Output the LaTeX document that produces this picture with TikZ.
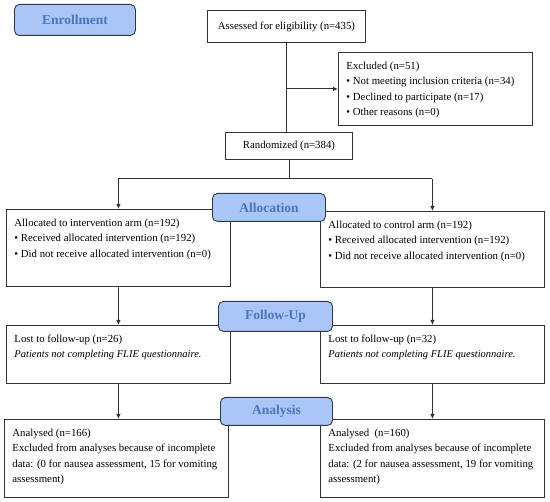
\documentclass[tikz,border=0pt]{standalone}
\usepackage{fontspec}
\setmainfont{Liberation Serif}
\usetikzlibrary{arrows.meta}
\definecolor{lblfill}{HTML}{A9C6F7}
\definecolor{lbltext}{HTML}{4A76BF}
\definecolor{lblborder}{HTML}{2E3848}
\definecolor{ln}{HTML}{333333}
\newcommand{\bxt}[3]{\parbox[c][#2][t]{#1}{\fontsize{10.8}{15.5}\selectfont\rule{0pt}{17pt}#3}}
\newcommand{\itl}[1]{{\fontsize{10.5}{15.5}\selectfont\itshape #1}}
\tikzset{
  box/.style={draw=ln, line width=0.9pt, fill=white, anchor=north west, inner sep=0pt},
  tbox/.style={box, inner xsep=8pt},
  cbox/.style={draw=ln, line width=0.9pt, fill=white, anchor=north west, inner sep=0pt, font=\fontsize{10.8}{12}\selectfont},
  lbl/.style={draw=lblborder, line width=0.9pt, fill=lblfill, rounded corners=5pt, anchor=north west,
     inner sep=0pt, text=lbltext, font=\fontsize{13.5}{15}\selectfont\bfseries},
  conn/.style={draw=ln, line width=0.9pt},
  arr/.style={conn, -{Latex[length=5pt,width=4.5pt]}}
}
\begin{document}
\begin{tikzpicture}[x=1pt,y=-1pt]
\useasboundingbox (0,0) rectangle (550,502);
% boxes
\node[cbox, minimum width=158pt, minimum height=32pt] (assess) at (207,10) {Assessed for eligibility (n=435)};
\node[tbox] (excl) at (338,52) {\bxt{178pt}{73pt}{Excluded (n=51)\\
\textbullet\ Not meeting inclusion criteria (n=34)\\
\textbullet\ Declined to participate (n=17)\\
\textbullet\ Other reasons (n=0)}};
\node[cbox, minimum width=127pt, minimum height=27pt] (rand) at (225,132) {Randomized (n=384)};
\node[tbox] (la) at (6,209) {\bxt{208pt}{77pt}{Allocated to intervention arm (n=192)\\
\textbullet\ Received allocated intervention (n=192)\\
\textbullet\ Did not receive allocated intervention (n=0)}};
\node[tbox] (ra) at (320,211) {\bxt{208pt}{76pt}{Allocated to control arm (n=192)\\
\textbullet\ Received allocated intervention (n=192)\\
\textbullet\ Did not receive allocated intervention (n=0)}};
\node[tbox] (lf) at (6,325) {\bxt{208pt}{58pt}{Lost to follow-up (n=26)\\
\itl{Patients not completing FLIE questionnaire.}}};
\node[tbox] (rf) at (320,325) {\bxt{208pt}{58pt}{Lost to follow-up (n=32)\\
\itl{Patients not completing FLIE questionnaire.}}};
\node[tbox] (lan) at (4,419) {\bxt{208pt}{78pt}{Analysed (n=166)\\
Excluded from analyses because of incomplete\\
data: (0 for nausea assessment, 15 for vomiting\\
assessment)}};
\node[tbox] (ran) at (320,419) {\bxt{208pt}{78pt}{Analysed~~(n=160)\\
Excluded from analyses because of incomplete\\
data: (2 for nausea assessment, 19 for vomiting\\
assessment)}};
% connectors
\draw[conn] (assess.south) -- (assess.south |- rand.north);
\draw[arr] (assess.south |- excl.west) -- (excl.west);
\draw[conn] (rand.south) -- ++(0,19) coordinate (split);
\draw[conn] (split -| la.north) -- (split -| ra.north);
\draw[arr] (split -| la.north) -- (la.north);
\draw[arr] (split -| ra.north) -- (ra.north);
\draw[arr] (la.south) -- (la.south |- lf.north);
\draw[arr] (ra.south) -- (ra.south |- rf.north);
\draw[arr] (lf.south) -- (lf.south |- lan.north);
\draw[arr] (rf.south) -- (rf.south |- ran.north);
% stage labels
\node[lbl, minimum width=121pt, minimum height=31pt] (enr) at (14,4) {Enrollment};
\node[lbl, minimum width=113pt, minimum height=28pt] (alloc) at (212,193) {Allocation};
\node[lbl, minimum width=114pt, minimum height=30pt] (fup) at (218,301) {Follow-Up};
\node[lbl, minimum width=112pt, minimum height=28pt] (anal) at (220,397) {Analysis};
\end{tikzpicture}
\end{document}
